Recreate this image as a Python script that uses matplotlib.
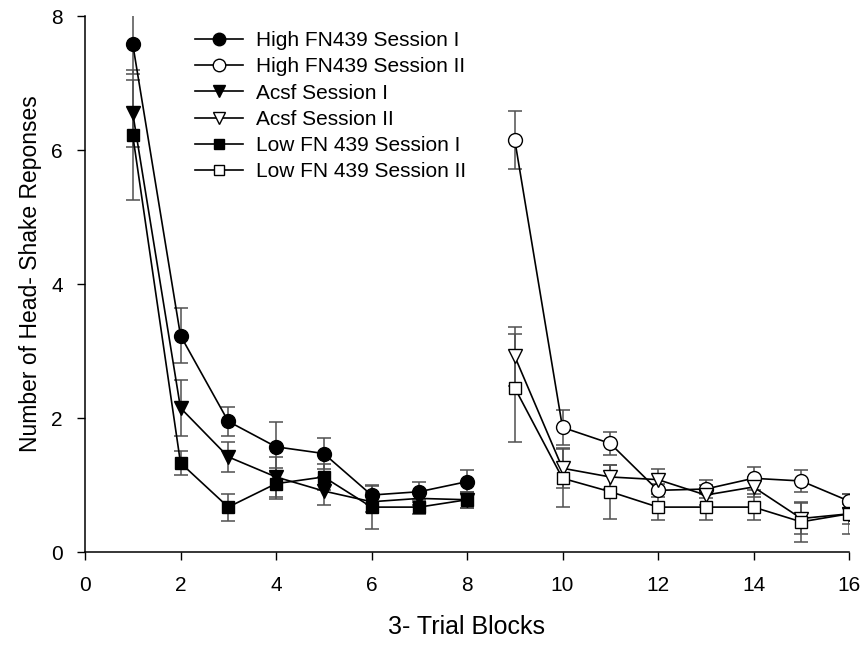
import matplotlib
matplotlib.use("Agg")
import matplotlib.pyplot as plt

plt.rcParams['font.family'] = ['Liberation Sans', 'DejaVu Sans']

blocks_s1 = [1, 2, 3, 4, 5, 6, 7, 8]
blocks_s2 = [9, 10, 11, 12, 13, 14, 15, 16]

high_s1 = [7.58, 3.23, 1.95, 1.57, 1.47, 0.85, 0.90, 1.05]
high_s1_err = [0.45, 0.41, 0.22, 0.37, 0.23, 0.13, 0.15, 0.17]
high_s2 = [6.15, 1.86, 1.62, 0.92, 0.94, 1.10, 1.06, 0.76]
high_s2_err = [0.43, 0.26, 0.17, 0.10, 0.13, 0.17, 0.16, 0.11]
acsf_s1 = [6.55, 2.15, 1.42, 1.12, 0.91, 0.75, 0.80, 0.78]
acsf_s1_err = [0.50, 0.42, 0.22, 0.30, 0.21, 0.15, 0.10, 0.12]
acsf_s2 = [2.92, 1.25, 1.12, 1.08, 0.85, 0.97, 0.50, 0.57]
acsf_s2_err = [0.44, 0.30, 0.18, 0.16, 0.15, 0.15, 0.23, 0.15]
low_s1 = [6.22, 1.33, 0.67, 1.02, 1.12, 0.67, 0.67, 0.78]
low_s1_err = [0.97, 0.18, 0.20, 0.23, 0.20, 0.33, 0.10, 0.12]
low_s2 = [2.45, 1.10, 0.90, 0.67, 0.67, 0.67, 0.45, 0.57]
low_s2_err = [0.81, 0.43, 0.40, 0.19, 0.19, 0.19, 0.30, 0.30]

labels = ["High FN439 Session I", "High FN439 Session II", "Acsf Session I",
          "Acsf Session II", "Low FN 439 Session I", "Low FN 439 Session II"]

x_ticks = [0, 2, 4, 6, 8, 10, 12, 14, 16]
y_ticks = [0, 2, 4, 6, 8]

fig = plt.figure(figsize=(8.66, 6.45), dpi=100)
ax = fig.add_axes([85/866, 1 - 552/645, (849-85)/866, (552-16)/645])

series = [
    (blocks_s1, high_s1, high_s1_err, 'o', 'black', 10),
    (blocks_s2, high_s2, high_s2_err, 'o', 'white', 10),
    (blocks_s1, acsf_s1, acsf_s1_err, 'v', 'black', 10),
    (blocks_s2, acsf_s2, acsf_s2_err, 'v', 'white', 10),
    (blocks_s1, low_s1, low_s1_err, 's', 'black', 8.5),
    (blocks_s2, low_s2, low_s2_err, 's', 'white', 8.5),
]

handles = []
for (x, y, e, m, fc, ms), lab in zip(series, labels):
    ax.errorbar(x, y, yerr=e, fmt='none', ecolor='#505050', elinewidth=1.1,
                capsize=5, capthick=1.1, zorder=2)
    h, = ax.plot(x, y, color='black', lw=1.2, marker=m, markersize=ms,
                 markerfacecolor=fc, markeredgecolor='black', markeredgewidth=1.0,
                 label=lab, zorder=3)
    handles.append(h)

ax.set_xlim(0, 16)
ax.set_ylim(0, 8)
ax.set_xticks(x_ticks)
ax.set_yticks(y_ticks)
ax.tick_params(direction='out', length=6, width=1, labelsize=15)
ax.tick_params(axis='x', pad=11)
ax.tick_params(axis='y', pad=10)
for s in ['top', 'right']:
    ax.spines[s].set_visible(False)
for s in ['left', 'bottom']:
    ax.spines[s].set_linewidth(1.1)

ax.set_xlabel("3- Trial Blocks", fontsize=18, labelpad=15)
ax.set_ylabel("Number of Head- Shake Reponses", fontsize=16.5, labelpad=5)
ax.yaxis.set_label_coords(-0.056, 0.52)

ax.legend(handles=handles, loc='upper left', bbox_to_anchor=(0.144, 0.972),
          frameon=False, fontsize=15, handlelength=2.3, handletextpad=0.65,
          labelspacing=0.35, borderpad=0, borderaxespad=0, markerscale=0.9)

fig.savefig("out.png", dpi=100)
